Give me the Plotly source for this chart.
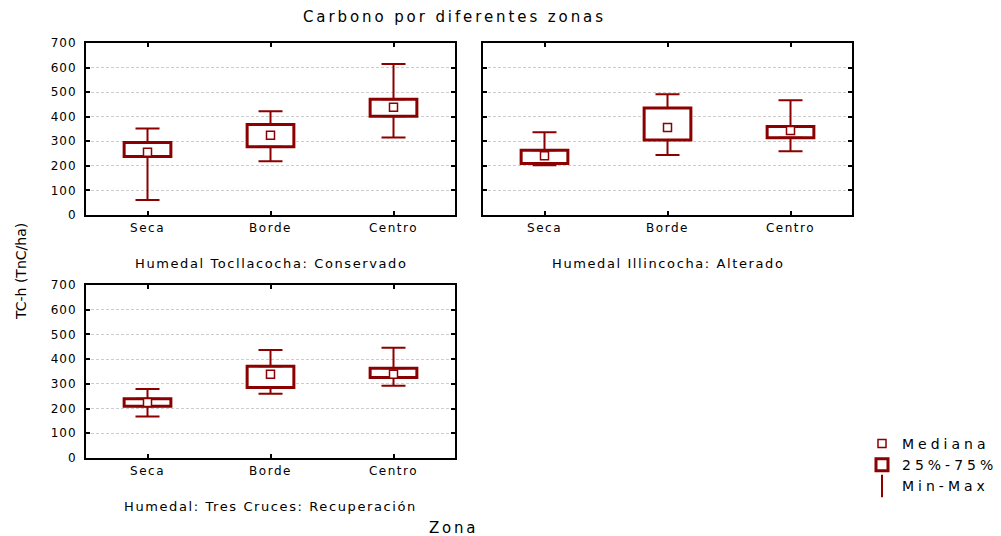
import plotly.graph_objects as go

# ---------------- data ----------------
zones = ["Seca", "Borde", "Centro"]
panel_titles = ["Humedal Tocllacocha: Conservado",
                "Humedal Illincocha: Alterado",
                "Humedal: Tres Cruces: Recuperación"]
y_ticks = [0, 100, 200, 300, 400, 500, 600, 700]

toc_min = [61, 219, 315]
toc_q1 = [238, 278, 402]
toc_med = [255, 325, 439]
toc_q3 = [295, 368, 471]
toc_max = [352, 422, 615]

ill_min = [202, 244, 259]
ill_q1 = [210, 305, 314]
ill_med = [241, 356, 344]
ill_q3 = [264, 435, 360]
ill_max = [337, 491, 467]

tres_min = [168, 260, 292]
tres_q1 = [209, 285, 326]
tres_med = [225, 339, 339]
tres_q3 = [240, 371, 363]
tres_max = [279, 437, 446]

legend_names = ["Mediana", "25%-75%", "Min-Max"]
main_title = "Carbono por diferentes zonas"
y_title = "TC-h (TnC/ha)"
x_title = "Zona"

# ---------------- style ----------------
RED = "#8b0000"
FONT = "DejaVu Sans"
W, H = 1001, 536


def sp(text, ls):
    return f'<span style="letter-spacing:{ls}px">{text}</span>'


panels = [
    (toc_min, toc_q1, toc_med, toc_q3, toc_max),
    (ill_min, ill_q1, ill_med, ill_q3, ill_max),
    (tres_min, tres_q1, tres_med, tres_q3, tres_max),
]
# pixel boxes of plot areas (left, right, top, bottom)
px_boxes = [(86, 455, 43, 215), (483, 852, 43, 215), (86, 455, 285, 458)]

fig = go.Figure()

for i, (mn, q1, md, q3, mx) in enumerate(panels):
    xa = "x" if i == 0 else f"x{i+1}"
    ya = "y" if i == 0 else f"y{i+1}"
    first = i == 0
    fig.add_trace(go.Bar(
        x=zones, y=[b - a for a, b in zip(q1, q3)], base=q1, width=0.38,
        marker=dict(color="white", line=dict(color=RED, width=3)),
        name=sp(legend_names[1], 4), showlegend=first, legendrank=2,
        xaxis=xa, yaxis=ya, hoverinfo="skip"))
    # upper whisker (Q3 -> max)
    fig.add_trace(go.Scatter(
        x=zones, y=q3, mode="markers",
        marker=dict(size=1, color="rgba(0,0,0,0)"),
        error_y=dict(type="data", symmetric=False,
                     array=[b - a for a, b in zip(q3, mx)],
                     arrayminus=[0] * len(q3),
                     color=RED, thickness=2, width=12),
        showlegend=False, xaxis=xa, yaxis=ya, hoverinfo="skip"))
    # lower whisker (min -> Q1)
    fig.add_trace(go.Scatter(
        x=zones, y=q1, mode="markers",
        marker=dict(size=1, color="rgba(0,0,0,0)"),
        error_y=dict(type="data", symmetric=False,
                     array=[0] * len(q1),
                     arrayminus=[a - b for a, b in zip(q1, mn)],
                     color=RED, thickness=2, width=12),
        showlegend=False, xaxis=xa, yaxis=ya, hoverinfo="skip"))
    # median
    fig.add_trace(go.Scatter(
        x=zones, y=md, mode="markers",
        marker=dict(symbol="square", size=8, color="white",
                    line=dict(color=RED, width=1.5)),
        name=sp(legend_names[0], 4), showlegend=first, legendrank=1,
        xaxis=xa, yaxis=ya, hoverinfo="skip"))

# legend entry for min-max
fig.add_trace(go.Scatter(
    x=[None], y=[None], mode="markers",
    marker=dict(symbol="line-ns", size=18, color=RED,
                line=dict(color=RED, width=2)),
    name=sp(legend_names[2], 4), legendrank=3))

axis_common = dict(showline=True, linecolor="black", linewidth=2,
                   mirror="ticks", ticks="inside", ticklen=4, tickwidth=1.5,
                   tickcolor="black", zeroline=False, automargin=False,
                   tickfont=dict(family=FONT, size=12, color="black"))

layout = dict(
    width=W, height=H,
    margin=dict(l=0, r=0, t=0, b=0, pad=0, autoexpand=False),
    paper_bgcolor="white", plot_bgcolor="white",
    font=dict(family=FONT, color="black"),
    showlegend=True, barmode="overlay",
    legend=dict(x=862 / W, y=1 - 428 / H, xanchor="left", yanchor="top",
                bgcolor="rgba(0,0,0,0)", font=dict(family=FONT, size=14),
                itemwidth=30, tracegroupgap=0),
)

annotations = []
for i, (l, r, t, b) in enumerate(px_boxes):
    sfx = "" if i == 0 else str(i + 1)
    layout["xaxis" + sfx] = dict(
        axis_common, domain=[l / W, r / W], anchor="y" + sfx,
        type="category", range=[-0.5, 2.5], showgrid=False,
        tickvals=zones, ticktext=[sp(z, 1.5) for z in zones],
        ticklabelstandoff=1)
    layout["yaxis" + sfx] = dict(
        axis_common, domain=[1 - b / H, 1 - t / H], anchor="x" + sfx,
        range=[0, 700], tickvals=y_ticks,
        ticktext=[sp(str(v), 1) for v in y_ticks],
        showticklabels=(i != 1), ticklabelstandoff=5,
        showgrid=True, gridcolor="#cccccc", gridwidth=1, griddash="3px,2px")
    annotations.append(dict(
        text=sp(panel_titles[i], 1.6), x=(l + r) / 2 / W, y=1 - (b + 48) / H,
        xref="paper", yref="paper", showarrow=False,
        xanchor="center", yanchor="middle",
        font=dict(family=FONT, size=13, color="black")))

annotations.append(dict(text=sp(main_title, 2.9), x=454 / W, y=1 - 17 / H,
                        xref="paper", yref="paper", showarrow=False,
                        xanchor="center", yanchor="middle",
                        font=dict(family=FONT, size=15, color="black")))
annotations.append(dict(text=y_title, x=21 / W, y=1 - 272 / H,
                        xref="paper", yref="paper", showarrow=False,
                        textangle=-90, xanchor="center", yanchor="middle",
                        font=dict(family=FONT, size=14, color="black")))
annotations.append(dict(text=sp(x_title, 2.8), x=453 / W, y=1 - 528 / H,
                        xref="paper", yref="paper", showarrow=False,
                        xanchor="center", yanchor="middle",
                        font=dict(family=FONT, size=15, color="black")))
layout["annotations"] = annotations

fig.update_layout(**layout)
fig.write_html("out.html")
